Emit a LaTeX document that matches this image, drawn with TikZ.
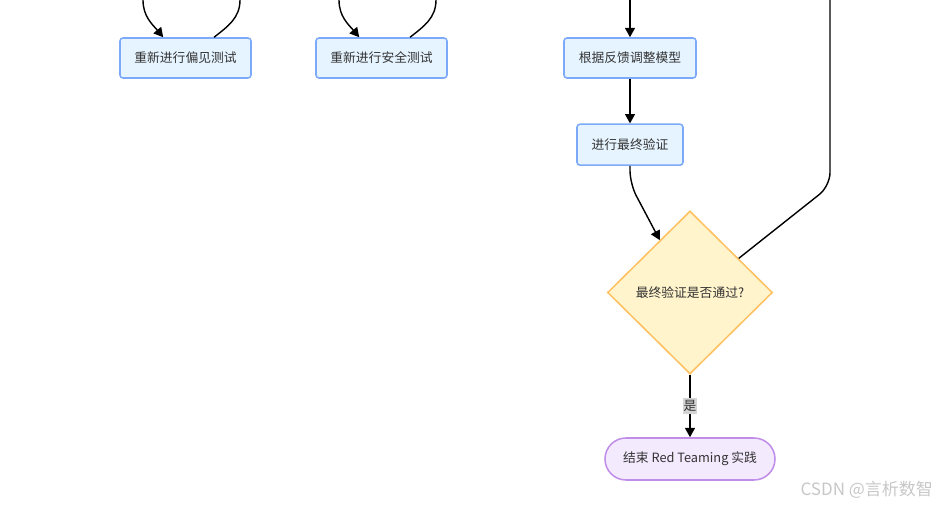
\documentclass[tikz,border=0pt]{standalone}
\usepackage{fontspec}
\setmainfont{Noto Sans CJK SC}
\usepackage{tikz}
\usetikzlibrary{arrows.meta,shapes.geometric}
\definecolor{taskfill}{RGB}{230,244,255}
\definecolor{taskdraw}{RGB}{125,170,248}
\definecolor{askfill}{RGB}{255,244,204}
\definecolor{askdraw}{RGB}{255,192,96}
\definecolor{endfill}{RGB}{244,234,254}
\definecolor{enddraw}{RGB}{192,142,232}
\definecolor{txt}{RGB}{51,51,51}
\tikzstyle{every node}=[font=\fontsize{10.9}{13}\selectfont,text=txt]
\tikzstyle{task}=[rectangle,
                  rounded corners=0.09cm,
                  line width=1.3pt,
                  minimum width=3.93cm,
                  minimum height=1.2cm,
                  draw=taskdraw,
                  fill=taskfill
                  ]
\tikzstyle{ask}=[diamond,
                 inner sep=0pt,
                 line width=1.3pt,
                 minimum width=4.95cm,
                 minimum height=4.89cm,
                 draw=askdraw,
                 fill=askfill]
\tikzstyle{finish}=[rectangle,
                    rounded corners=0.63cm,
                    line width=1.3pt,
                    minimum width=5.1cm,
                    minimum height=1.26cm,
                    draw=enddraw,
                    fill=endfill]
\tikzstyle{flow}=[line width=1.2pt,black]
\tikzstyle{yes}=[fill=black!17,inner xsep=0.4pt,inner ysep=1.8pt]

\begin{document}
\begin{tikzpicture}[x=0.03cm,y=-0.03cm,node distance=2.6cm,>={Triangle[length=8pt,width=8.5pt]}]
\useasboundingbox (0,0) rectangle (940,506);
\node (Bias)   [task] at (185.5,58) {重新进行偏见测试};
\node (Safe)   [task] at (381.5,58) {重新进行安全测试};
\node (Adjust) [task,minimum width=3.96cm] at (630,58) {根据反馈调整模型};
\node (Final)  [task,minimum width=3.18cm,minimum height=1.23cm,below of=Adjust] {进行最终验证};
\node (Pass)   [ask] at (690,292.5) {最终验证是否通过?};
\node (End)    [finish] at (690,459) {结束 Red Teaming 实践};
\node (Mark)   [anchor=east,text=black!22,font=\fontsize{14.5}{16}\selectfont] at (937,490) {CSDN @言析数智};
\coordinate (Bias_in)   at (143,0);
\coordinate (Bias_up)   at (240,0);
\coordinate (Safe_in)   at (339,0);
\coordinate (Safe_up)   at (436,0);
\coordinate (Adjust_in) at (630,0);
\coordinate (Pass_no)   at (830,0);
 \path[->] (Bias_in) edge[flow,out=-90,in=130] (Bias.137);
 \path (Bias.36) edge[flow,out=38,in=-90] (Bias_up);
 \path[->] (Safe_in) edge[flow,out=-90,in=130] (Safe.137);
 \path (Safe.36) edge[flow,out=38,in=-90] (Safe_up);
 \path[->] (Adjust_in) edge[flow] (Adjust);
 \path[->] (Adjust) edge[flow] (Final);
 \draw[flow,->,rounded corners=0.4cm] (Final.south) -- ++(0,18) -- (Pass.120);
 \draw[flow,rounded corners=0.4cm] (Pass.35) -- (830,186) -- (Pass_no);
 \path[->] (Pass) edge[flow] node[yes] {是} (End);
\end{tikzpicture}
\end{document}
